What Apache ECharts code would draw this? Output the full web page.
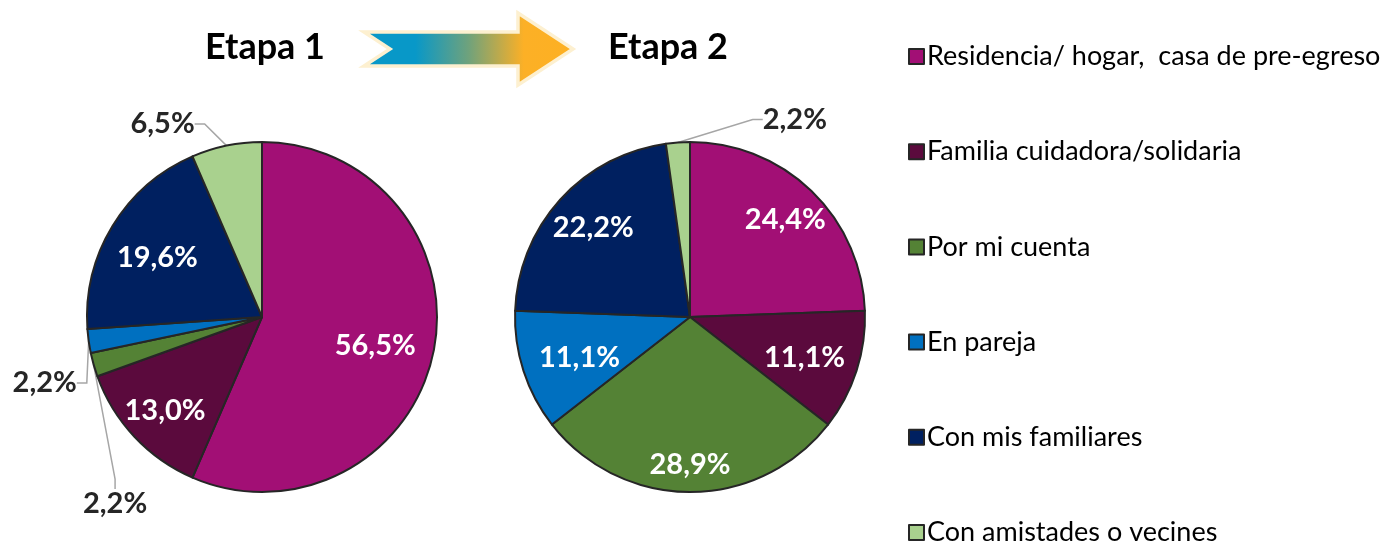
<!DOCTYPE html>
<html>
<head>
<meta charset="utf-8">
<style>
  html, body { margin: 0; padding: 0; background: #ffffff; }
  #chart { width: 1389px; height: 544px; }
</style>
<script src="https://cdn.jsdelivr.net/npm/echarts@6/dist/echarts.min.js"></script>
</head>
<body>
<div id="chart"></div>
<script>
const categories = [
  'Residencia/ hogar,  casa de pre-egreso',
  'Familia cuidadora/solidaria',
  'Por mi cuenta',
  'En pareja',
  'Con mis familiares',
  'Con amistades o vecines'
];
const etapa1Values = [56.5, 13.0, 2.2, 2.2, 19.6, 6.5];
const etapa2Values = [24.4, 11.1, 28.9, 11.1, 22.2, 2.2];
const sliceColors = ['#A20F75', '#5B0A3D', '#548235', '#0070C0', '#002060', '#A9D18E'];
const stageTitles = ['Etapa 1', 'Etapa 2'];

const FONT = 'Lato';
const fmt = v => v.toFixed(1).replace('.', ',') + '%';
const INSIDE_MIN = 10;

function mainData(values) {
  return categories.map((name, i) => ({
    name: name,
    value: values[i],
    itemStyle: { color: sliceColors[i] },
    label: { show: values[i] < INSIDE_MIN },
    labelLine: { show: values[i] < INSIDE_MIN }
  }));
}
function overlayData(values) {
  return categories.map((name, i) => ({
    name: name,
    value: values[i],
    label: { show: values[i] >= INSIDE_MIN }
  }));
}

const chart = echarts.init(document.getElementById('chart'), null, { renderer: 'canvas' });

// move an outside label by an offset (relative to its default spot), redrawing its leader line
function shifted(offsets) {
  return p => {
    const o = offsets[p.dataIndex];
    if (!o) return {};
    return {
      x: p.labelRect.x + o[0],
      y: p.labelRect.y + o[1],
      align: 'left',
      verticalAlign: 'top'
    };
  };
}
function nudged(offsets) {
  return p => {
    const o = offsets[p.dataIndex];
    return o ? { dx: o[0], dy: o[1] } : {};
  };
}

function mainSeries(values, center, layoutFn) {
  return {
    type: 'pie',
    center: center,
    radius: [0, 175],
    startAngle: 90,
    clockwise: true,
    avoidLabelOverlap: false,
    data: mainData(values),
    itemStyle: { borderColor: '#262626', borderWidth: 2 },
    label: {
      position: 'outside',
      formatter: p => fmt(p.value),
      color: '#262626',
      fontFamily: FONT,
      fontWeight: 'bold',
      fontSize: 29
    },
    labelLine: {
      length: 14,
      length2: 10,
      lineStyle: { color: '#A6A6A6', width: 1.5 }
    },
    labelLayout: layoutFn,
    emphasis: { disabled: true }
  };
}
function overlaySeries(values, center, layoutFn) {
  return {
    type: 'pie',
    center: center,
    radius: [85, 175],
    startAngle: 90,
    clockwise: true,
    silent: true,
    data: overlayData(values),
    itemStyle: { color: 'rgba(0,0,0,0)', borderWidth: 0 },
    label: {
      position: 'inside',
      formatter: p => fmt(p.value),
      color: '#FFFFFF',
      fontFamily: FONT,
      fontWeight: 'bold',
      fontSize: 29
    },
    labelLine: { show: false },
    labelLayout: layoutFn,
    emphasis: { disabled: true }
  };
}

const option = {
  backgroundColor: '#FFFFFF',
  animation: false,
  title: [
    { text: stageTitles[0], left: 260, top: 24, textAlign: 'center',
      textStyle: { fontFamily: FONT, fontWeight: 'bold', fontSize: 36, color: '#000000' } },
    { text: stageTitles[1], left: 663, top: 24, textAlign: 'center',
      textStyle: { fontFamily: FONT, fontWeight: 'bold', fontSize: 36, color: '#000000' } }
  ],
  legend: {
    orient: 'vertical',
    left: 903,
    top: 38,
    height: 540,
    icon: 'rect',
    itemWidth: 15,
    itemHeight: 15,
    itemGap: 68.2,
    data: categories,
    itemStyle: { borderColor: '#262626', borderWidth: 2 },
    textStyle: { fontFamily: FONT, fontSize: 27, color: '#000000', lineHeight: 27, padding: [0, 0, 0, -2] },
    selectedMode: false
  },
  graphic: [
    {
      type: 'polygon',
      shape: {
        points: [[364, 32], [518, 32], [518, 13], [573, 49], [518, 85], [518, 66], [364, 66], [390, 49]]
      },
      style: {
        fill: {
          type: 'linear', x: 0, y: 0, x2: 1, y2: 0,
          colorStops: [
            { offset: 0, color: '#0898C8' },
            { offset: 0.25, color: '#0898C8' },
            { offset: 0.5, color: '#6FA27C' },
            { offset: 0.76, color: '#FCB026' },
            { offset: 1, color: '#FDB022' }
          ]
        },
        stroke: '#FDF0D0',
        lineWidth: 3.5
      }
    }
  ],
  series: [
    mainSeries(etapa1Values, [262, 317], shifted({ 2: [82, 135], 3: [17, 40], 5: [-14, -8] })),
    overlaySeries(etapa1Values, [262, 317], nudged({ 0: [-17, 2], 1: [0, 3], 4: [9, 10] })),
    mainSeries(etapa2Values, [690, 317], shifted({ 5: [165, -9] })),
    overlaySeries(etapa2Values, [690, 317], nudged({ 0: [3, -2], 1: [-12, 0], 2: [0, 15], 3: [16, 0], 4: [2, 0] }))
  ]
};
chart.setOption(option);
</script>
</body>
</html>
